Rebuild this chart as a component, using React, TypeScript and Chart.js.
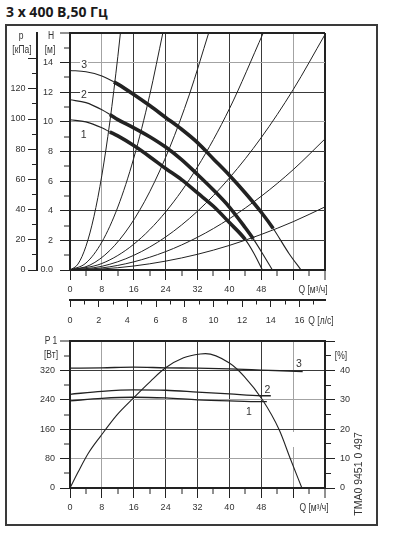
import React, { useEffect, useRef } from 'react';
import { Chart, registerables } from 'chart.js';

Chart.register(...registerables);

const TITLE = '3 x 400 В,50 Гц';

// ---------- top chart: head H [m] vs flow Q [m³/h] ----------
const PUMP1_Q = [0, 4, 8, 10, 12, 16, 20, 24, 28, 32, 36, 40, 44, 46, 48.3];
const PUMP1_H = [10.14, 10.0, 9.6, 9.32, 9.05, 8.4, 7.65, 6.85, 6.1, 5.2, 4.3, 3.2, 2.05, 1.2, 0];
const PUMP2_Q = [0, 4, 8, 10, 12, 16, 20, 24, 28, 32, 36, 40, 44, 46, 48, 50.8];
const PUMP2_H = [11.49, 11.3, 10.82, 10.5, 10.15, 9.6, 9.0, 8.3, 7.45, 6.45, 5.4, 4.25, 2.85, 2.1, 1.25, 0];
const PUMP3_Q = [0, 4, 8, 11, 12, 16, 20, 24, 28, 32, 36, 40, 44, 48, 51, 55, 58];
const PUMP3_H = [13.47, 13.38, 13.1, 12.7, 12.55, 11.85, 11.1, 10.3, 9.5, 8.6, 7.5, 6.4, 5.2, 3.9, 2.8, 1.1, 0];
// bold (duty) part of each pump curve [from Q, to Q]
const PUMP1_BOLD = [10, 44];
const PUMP2_BOLD = [10, 46];
const PUMP3_BOLD = [11, 51];

// system curves
const SYS1_Q = [0, 2, 4, 6, 8, 10, 12, 12.65];
const SYS1_H = [0, 0.4, 1.6, 3.6, 6.4, 10, 14.4, 16];
const SYS2_Q = [0, 4, 8, 12, 16, 20, 23.3];
const SYS2_H = [0, 0.47, 1.89, 4.25, 7.55, 11.8, 16];
const SYS3_Q = [0, 5, 10, 15, 20, 25, 30, 34.8];
const SYS3_H = [0, 0.33, 1.32, 2.97, 5.28, 8.25, 11.88, 16];
const SYS4_Q = [0, 8, 16, 24, 32, 40, 48.5];
const SYS4_H = [0, 0.44, 1.74, 3.92, 6.96, 10.88, 16];
const SYS5_Q = [0, 8, 16, 24, 32, 40, 48, 56, 64];
const SYS5_H = [0, 0.25, 0.99, 2.23, 3.97, 6.21, 8.94, 12.17, 15.9];
const SYS6_Q = [0, 8, 16, 24, 32, 40, 48, 56, 64];
const SYS6_H = [0, 0.14, 0.55, 1.24, 2.21, 3.46, 4.98, 6.77, 8.85];
const SYS7_Q = [0, 8, 16, 24, 32, 40, 48, 56, 64];
const SYS7_H = [0, 0.07, 0.27, 0.6, 1.06, 1.66, 2.4, 3.26, 4.26];

// ---------- bottom chart: P1 [W] and efficiency [%] ----------
const P1_3_Q = [0, 8, 16, 24, 32, 40, 48, 58.4];
const P1_3_W = [326, 327, 329, 327, 326, 324, 321, 317];
const P1_2_Q = [0, 8, 16, 24, 32, 40, 48, 50.4];
const P1_2_W = [255, 263, 267, 266, 261, 256, 251, 251];
const P1_1_Q = [0, 8, 16, 24, 32, 40, 48, 49.4];
const P1_1_W = [237, 244, 247, 245, 240, 237, 235, 235];
const ETA_Q = [0, 2.1, 4.6, 7.6, 11.8, 15.9, 20.2, 23.9, 28.5, 32.7, 34, 39.9, 43.7, 48.3, 52.5, 55.4, 58.2];
const ETA_PCT = [0, 5.6, 11.8, 17.5, 24.9, 30.6, 36.3, 40.8, 44.3, 45.6, 45.7, 42.6, 38, 30, 19.8, 9.6, 0];

// ---------- tick labels ----------
const Q_M3H_LABELS = [0, 8, 16, 24, 32, 40, 48];
const Q_LS_LABELS = [0, 2, 4, 6, 8, 10, 12, 14, 16];
const H_LABELS = [2, 4, 6, 8, 10, 12, 14];
const P_KPA_LABELS = [0, 20, 40, 60, 80, 100, 120];
const P1_LABELS = [0, 80, 160, 240, 320];
const ETA_LABELS = [0, 10, 20, 30, 40];

const NARROW = "'Liberation Sans', Arial, sans-serif";
const DARK = '#222';
const GRID_DARK = '#3a3a3a';
const GRID_GREY = '#a3a3a3';
const TXT = '#333';
const TICK_FONT = { family: NARROW, size: 9 };

const val = (c: any) => (c && c.tick ? Math.round(c.tick.value * 1000) / 1000 : NaN);
const pts = (qs: number[], vs: number[]) => qs.map((q, i) => ({ x: q, y: vs[i] }));

function curve(data: any[], width: number, yAxisID = 'y') {
  return {
    data,
    yAxisID,
    showLine: true,
    borderColor: DARK,
    borderWidth: width,
    pointRadius: 0,
    pointHoverRadius: 0,
    cubicInterpolationMode: 'monotone',
    fill: false,
  };
}

function pump(qs: number[], hs: number[], bold: number[]) {
  return {
    ...curve(pts(qs, hs), 1.1),
    segment: {
      borderWidth: (ctx: any) =>
        ctx.p0.parsed.x >= bold[0] - 1e-6 && ctx.p1.parsed.x <= bold[1] + 1e-6 ? 3.6 : 1.1,
    },
  };
}

const common = {
  responsive: false,
  animation: false,
  devicePixelRatio: 1,
  events: [],
  plugins: { legend: { display: false }, tooltip: { enabled: false }, title: { display: false } },
};

function topConfig(): any {
  return {
    type: 'scatter',
    data: {
      datasets: [
        curve(pts(SYS1_Q, SYS1_H), 1),
        curve(pts(SYS2_Q, SYS2_H), 1),
        curve(pts(SYS3_Q, SYS3_H), 1),
        curve(pts(SYS4_Q, SYS4_H), 1),
        curve(pts(SYS5_Q, SYS5_H), 1),
        curve(pts(SYS6_Q, SYS6_H), 1),
        curve(pts(SYS7_Q, SYS7_H), 1),
        pump(PUMP1_Q, PUMP1_H, PUMP1_BOLD),
        pump(PUMP2_Q, PUMP2_H, PUMP2_BOLD),
        pump(PUMP3_Q, PUMP3_H, PUMP3_BOLD),
      ],
    },
    options: {
      ...common,
      layout: { padding: { left: 0, top: 14, right: 51, bottom: 6 } },
      scales: {
        x: {
          type: 'linear', axis: 'x', position: 'bottom', min: 0, max: 64, weight: 0,
          afterFit: (s: any) => { s.height = 30; },
          border: { display: true, color: DARK, width: 2 },
          grid: {
            color: (c: any) => { const v = val(c); return v === 8 || v === 56 ? GRID_GREY : v === 64 ? DARK : GRID_DARK; },
            lineWidth: (c: any) => { const v = val(c); return v % 8 === 0 ? (v === 64 ? 2 : 1) : 0; },
            tickLength: 10, tickColor: DARK, tickWidth: 1,
            tickBorderDash: (c: any) => (val(c) % 8 === 0 ? [] : [5, 1000]),
          },
          ticks: {
            stepSize: 4, autoSkip: false, maxRotation: 0, minRotation: 0, padding: 4.5, color: TXT, font: TICK_FONT,
            callback: (v: any) => (Q_M3H_LABELS.includes(Number(v)) ? String(v) : ''),
          },
        },
        qls: {
          type: 'linear', axis: 'x', position: 'bottom', min: 0, max: 64 / 3.6, weight: 1,
          afterFit: (s: any) => { s.height = 30; },
          border: { display: true, color: DARK, width: 2 },
          grid: {
            drawOnChartArea: false, tickLength: 7, tickColor: DARK, tickWidth: 1,
            tickBorderDash: (c: any) => (val(c) % 2 === 0 ? [] : [3.5, 1000]),
          },
          ticks: {
            stepSize: 1, includeBounds: false, autoSkip: false, maxRotation: 0, minRotation: 0, padding: 8.5, color: TXT, font: TICK_FONT,
            callback: (v: any) => (Q_LS_LABELS.includes(Number(v)) ? String(v) : ''),
          },
        },
        y: {
          type: 'linear', axis: 'y', position: 'left', min: 0, max: 16, weight: 1,
          afterFit: (s: any) => { s.width = 33; },
          border: { display: true, color: DARK, width: 2 },
          grid: {
            color: (c: any) => { const v = val(c); return v === 14 || v === 10 || v === 6 ? GRID_GREY : v === 16 ? DARK : GRID_DARK; },
            lineWidth: (c: any) => { const v = val(c); return v % 2 === 0 ? (v === 16 ? 2 : 1) : 0; },
            tickLength: 10, tickColor: DARK, tickWidth: 1,
            tickBorderDash: (c: any) => (val(c) % 2 === 0 ? [] : [0, 4, 5, 1000]),
          },
          ticks: {
            stepSize: 1, autoSkip: false, padding: 7, color: TXT, font: TICK_FONT,
            callback: (v: any) => (Number(v) === 0 ? '0.0' : H_LABELS.includes(Number(v)) ? String(v) : ''),
          },
        },
        p: {
          type: 'linear', axis: 'y', position: 'left', min: 0, max: 16 * 9.81, weight: 2,
          afterFit: (s: any) => { s.width = 31; },
          border: { display: true, color: DARK, width: 2 },
          grid: {
            drawOnChartArea: false, tickLength: 9, tickWidth: 1,
            tickColor: (c: any) => (val(c) > 140 ? 'rgba(0,0,0,0)' : DARK),
            tickBorderDash: (c: any) => (Math.round(val(c)) % 20 === 0 ? [] : [0, 4, 4, 1000]),
          },
          ticks: {
            stepSize: 10, includeBounds: false, autoSkip: false, padding: 2.5, color: TXT, font: TICK_FONT,
            callback: (v: any) => (P_KPA_LABELS.includes(Math.round(Number(v))) ? String(Math.round(Number(v))) : ''),
          },
        },
      },
    },
  };
}

function bottomConfig(): any {
  return {
    type: 'scatter',
    data: {
      datasets: [
        curve(pts(P1_3_Q, P1_3_W), 1.3),
        curve(pts(P1_2_Q, P1_2_W), 1.3),
        curve(pts(P1_1_Q, P1_1_W), 1.3),
        curve(pts(ETA_Q, ETA_PCT), 1.1, 'eta'),
      ],
    },
    options: {
      ...common,
      layout: { padding: { left: 0, top: 14, right: 21, bottom: 12 } },
      scales: {
        x: {
          type: 'linear', axis: 'x', position: 'bottom', min: 0, max: 64, weight: 0,
          afterFit: (s: any) => { s.height = 25; },
          border: {
            display: true, color: DARK, width: 2,
            // the Q = 56 grid line is broken in the original drawing
            dash: (c: any) => (val(c) === 56 ? [91, 15, 1000] : []),
          },
          grid: {
            color: (c: any) => { const v = val(c); return v === 8 || v === 56 ? GRID_GREY : v === 64 ? DARK : GRID_DARK; },
            lineWidth: (c: any) => { const v = val(c); return v % 8 === 0 ? (v === 64 ? 2 : 1) : 0; },
            tickLength: 10, tickColor: DARK, tickWidth: 1,
            tickBorderDash: (c: any) => (val(c) % 8 === 0 ? [] : [5, 1000]),
          },
          ticks: {
            stepSize: 4, autoSkip: false, maxRotation: 0, minRotation: 0, padding: 4.5, color: TXT, font: TICK_FONT,
            callback: (v: any) => (Q_M3H_LABELS.includes(Number(v)) ? String(v) : ''),
          },
        },
        y: {
          type: 'linear', axis: 'y', position: 'left', min: 0, max: 400, weight: 0,
          afterFit: (s: any) => { s.width = 64; },
          border: { display: true, color: DARK, width: 2 },
          grid: {
            color: (c: any) => { const v = val(c); return v === 80 || v === 240 ? GRID_GREY : v === 400 ? DARK : GRID_DARK; },
            lineWidth: (c: any) => { const v = val(c); return v % 80 === 0 ? (v === 400 ? 2 : 1) : 0; },
            tickLength: 10, tickColor: DARK, tickWidth: 1,
            tickBorderDash: (c: any) => (val(c) % 80 === 0 ? [] : [0, 4, 5, 1000]),
          },
          ticks: {
            stepSize: 40, autoSkip: false, padding: 5, color: TXT, font: TICK_FONT,
            callback: (v: any) => (P1_LABELS.includes(Number(v)) ? String(v) : ''),
          },
        },
        eta: {
          type: 'linear', axis: 'y', position: 'right', min: 0, max: 50, weight: 0,
          afterFit: (s: any) => { s.width = 30; },
          border: { display: true, color: DARK, width: 2 },
          grid: {
            drawOnChartArea: false, tickLength: 10, tickColor: DARK, tickWidth: 1,
            tickBorderDash: (c: any) => (val(c) % 10 === 0 ? [] : [5, 1000]),
          },
          ticks: {
            stepSize: 5, autoSkip: false, padding: 5, color: TXT, font: TICK_FONT,
            callback: (v: any) => (ETA_LABELS.includes(Number(v)) ? String(v) : ''),
          },
        },
      },
    },
  };
}

function Lbl({ x, y, text, size = 10, bg, sx = 0.85 }: any) {
  return (
    <div
      style={{
        position: 'absolute', left: x, top: y, transform: `translate(-50%,-50%) scaleX(${sx})`,
        font: `${size}px ${NARROW}`, lineHeight: 1, color: TXT, whiteSpace: 'nowrap',
        background: bg || 'transparent', padding: bg ? '0 1px' : 0,
      }}
    >
      {text}
    </div>
  );
}

export default function App() {
  const topRef = useRef<HTMLCanvasElement>(null);
  const botRef = useRef<HTMLCanvasElement>(null);

  useEffect(() => {
    const top = new Chart(topRef.current as HTMLCanvasElement, topConfig());
    const bot = new Chart(botRef.current as HTMLCanvasElement, bottomConfig());
    return () => {
      top.destroy();
      bot.destroy();
    };
  }, []);

  return (
    <div style={{ position: 'absolute', left: 0, top: 0, width: 394, height: 539, background: '#fff', overflow: 'hidden' }}>
      <div style={{ position: 'absolute', left: 6, top: 2, font: "bold 14px 'Open Sans', sans-serif", lineHeight: '19px', color: '#1a1a1a', whiteSpace: 'nowrap' }}>
        {TITLE}
      </div>
      <div style={{ position: 'absolute', left: 5, top: 24, width: 373, height: 502, border: '2px solid #3a3a3a', boxSizing: 'border-box' }} />
      <canvas ref={topRef} width={370} height={317} style={{ position: 'absolute', left: 6, top: 19, width: 370, height: 317 }} />
      <canvas ref={botRef} width={370} height={198} style={{ position: 'absolute', left: 6, top: 327, width: 370, height: 198 }} />

      <Lbl x={20.5} y={35.5} text="p" />
      <Lbl x={22} y={50} text="[кПа]" />
      <Lbl x={50.5} y={35.5} text="H" />
      <Lbl x={50} y={50} text="[м]" />
      <Lbl x={84.2} y={64} text="3" size={10.5} bg="#fff" sx={1} />
      <Lbl x={83.8} y={94.2} text="2" size={10.5} bg="#fff" sx={1} />
      <Lbl x={83.7} y={133.7} text="1" size={10.5} bg="#fff" sx={1} />
      <Lbl x={312.5} y={290} text="Q [м³/ч]" />
      <Lbl x={320.5} y={321} text="Q [л/с]" />

      <Lbl x={51} y={341} text="P 1" />
      <Lbl x={50.5} y={355} text="[Вт]" />
      <Lbl x={341} y={356.3} text="[%]" />
      <Lbl x={298.8} y={363} text="3" size={10.5} sx={1} />
      <Lbl x={267.5} y={388.8} text="2" size={10.5} sx={1} />
      <Lbl x={249} y={411.3} text="1" size={10.5} sx={1} />
      <Lbl x={314} y={508} text="Q [м³/ч]" />
      <div
        style={{
          position: 'absolute', left: 358, top: 473.5, transform: 'translate(-50%,-50%) rotate(-90deg)',
          font: `10.5px ${NARROW}`, lineHeight: 1, color: TXT, whiteSpace: 'nowrap',
        }}
      >
        TMA0 9451 0 497
      </div>
    </div>
  );
}
